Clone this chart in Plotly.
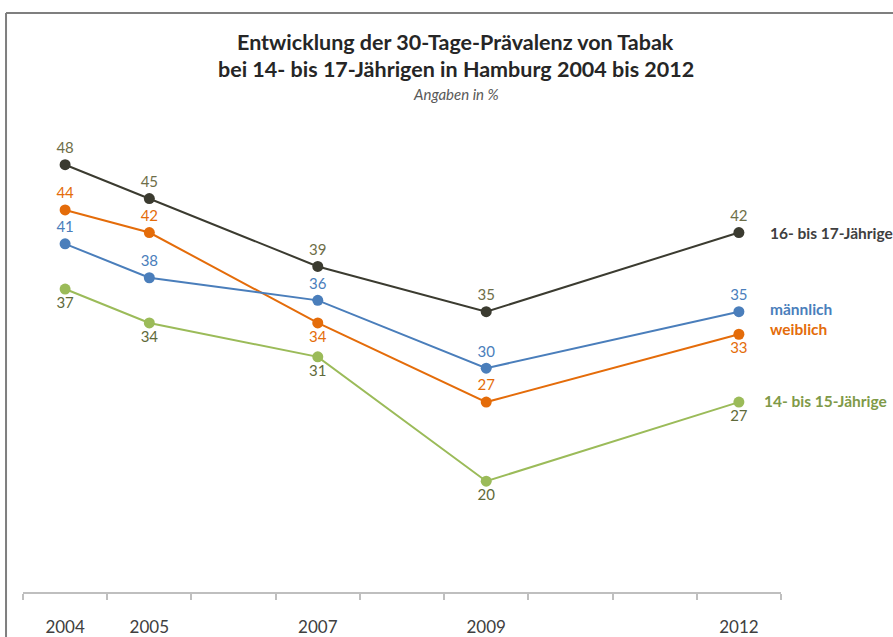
import plotly.graph_objects as go

# Survey years and 30-day prevalence of tobacco use (%)
years = [2004, 2005, 2007, 2009, 2012]
age_16_17 = [48, 45, 39, 35, 42]
weiblich = [44, 42, 34, 27, 33]
maennlich = [41, 38, 36, 30, 35]
age_14_15 = [37, 34, 31, 20, 27]

year_labels = ["2004", "2005", "2007", "2009", "2012"]
boundaries = [y - 0.5 for y in range(2004, 2014)]

FONT = "Lato, Carlito, Calibri, sans-serif"

series = [
    # name, values, line colour, label colour, label positions
    ("16- bis 17-Jährige", age_16_17, "#3b3b30", "#6e6e48",
     ["top center"] * 5),
    ("weiblich", weiblich, "#e46c0a", "#e46c0a",
     ["top center", "top center", "bottom center", "top center", "bottom center"]),
    ("männlich", maennlich, "#4a7ebb", "#4a7ebb",
     ["top center"] * 5),
    ("14- bis 15-Jährige", age_14_15, "#9bbb59", "#5f6a3a",
     ["bottom center"] * 5),
]

fig = go.Figure()
for name, vals, lc, tc, pos in series:
    fig.add_trace(go.Scatter(
        x=years, y=vals, name=name, mode="lines+markers+text",
        line=dict(color=lc, width=2),
        marker=dict(color=lc, size=11),
        text=[str(v) for v in vals],
        textposition=pos,
        textfont=dict(family=FONT, size=15, color=tc),
        cliponaxis=False,
        showlegend=False,
    ))

# Series names at the right end of each line
end_labels = [
    ("16- bis 17-Jährige", age_16_17[-1], "#404040", 29, 0),
    ("männlich", maennlich[-1], "#4a7ebb", 29, 3),
    ("weiblich", weiblich[-1], "#e46c0a", 29, 5),
    ("14- bis 15-Jährige", age_14_15[-1], "#7f9a48", 23, 1),
]
annotations = []
for txt, yv, col, xs, ys in end_labels:
    annotations.append(dict(
        x=2012, y=yv, xref="x", yref="y", text=f"<b>{txt}</b>",
        xanchor="left", yanchor="middle", xshift=xs, yshift=ys,
        showarrow=False, font=dict(family=FONT, size=15.5, color=col),
    ))

# Title block
annotations += [
    dict(x=0.571, y=1.175, xref="paper", yref="paper", showarrow=False,
         text="<b>Entwicklung der 30-Tage-Prävalenz von Tabak</b>",
         xanchor="center", yanchor="middle",
         font=dict(family=FONT, size=21.5, color="#262626")),
    dict(x=0.571, y=1.117, xref="paper", yref="paper", showarrow=False,
         text="<b>bei 14- bis 17-Jährigen in Hamburg 2004 bis 2012</b>",
         xanchor="center", yanchor="middle",
         font=dict(family=FONT, size=21.5, color="#262626")),
    dict(x=0.571, y=1.064, xref="paper", yref="paper", showarrow=False,
         text="<i>Angaben in %</i>",
         xanchor="center", yanchor="middle",
         font=dict(family=FONT, size=15, color="#595959")),
]

# Grey frame along the top and left edges
shapes = [
    dict(type="line", xref="paper", yref="paper",
         x0=-0.0224, y0=-0.2, x1=-0.0224, y1=1.2372,
         line=dict(color="#7f7f7f", width=2)),
    dict(type="line", xref="paper", yref="paper",
         x0=-0.0224, y0=1.2372, x1=1.3, y1=1.2372,
         line=dict(color="#7f7f7f", width=2)),
]

fig.update_layout(
    width=893, height=637,
    margin=dict(l=23, r=112, t=124, b=45),
    paper_bgcolor="white", plot_bgcolor="white",
    font=dict(family=FONT),
    annotations=annotations,
    shapes=shapes,
    xaxis=dict(
        range=[2003.5, 2012.5], automargin=False,
        tickmode="array", tickvals=years, ticktext=year_labels,
        ticks="", showgrid=False, zeroline=False,
        showline=True, linecolor="#bfbfbf", linewidth=2,
        tickfont=dict(family=FONT, size=17, color="#404040"),
        ticklabelstandoff=19,
        minor=dict(tickmode="array", tickvals=boundaries, ticks="outside",
                   ticklen=6, tickcolor="#bfbfbf", tickwidth=1.5,
                   showgrid=False),
    ),
    yaxis=dict(range=[10.2, 51.6], visible=False, showgrid=False,
               zeroline=False, automargin=False),
)

fig.write_html("out.html")
